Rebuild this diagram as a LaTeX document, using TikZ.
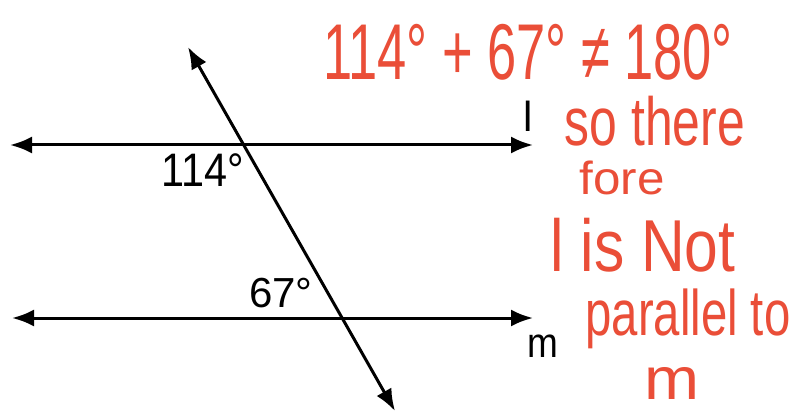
\documentclass[tikz,border=0pt]{standalone}
\usepackage{fontspec}
\usepackage{graphicx}
\setmainfont{Liberation Sans}
\usetikzlibrary{arrows.meta}
\definecolor{pen}{RGB}{234,78,56}
\tikzset{
  geoline/.style={line width=3pt, black, {Latex[length=22pt,width=17pt]}-{Latex[length=22pt,width=17pt]}},
  lbl/.style={inner sep=0pt, font=\fontsize{44}{48}\selectfont},
  hand/.style={inner sep=0pt, text=pen}
}
\begin{document}
\begin{tikzpicture}[x=1pt,y=-1pt]
\fill[white] (0,0) rectangle (802,414);
\useasboundingbox (0,0) rectangle (802,414);
% endpoints
\coordinate (l1) at (10,145);
\coordinate (l2) at (533,145);
\coordinate (m1) at (12,318);
\coordinate (m2) at (533,318);
\coordinate (t1) at (188,47);
\coordinate (t2) at (395,411);
\draw[geoline] (l1) -- (l2);
\draw[geoline] (m1) -- (m2);
\draw[geoline] (t1) -- (t2);
% labels
\node[lbl, font=\fontsize{47}{50}\selectfont, xscale=0.88] (a114) at (203,170) {114°};
\node[lbl, font=\fontsize{42}{46}\selectfont] (a67) at (281,293) {67°};
\node[lbl, font=\fontsize{42}{46}\selectfont] (ll) at (528,116) {l};
\node[lbl, font=\fontsize{42}{46}\selectfont, xscale=0.88] (lm) at (543,346) {m};
% handwritten notes
\node[hand] (n1) at (528,52) {\resizebox*{410pt}{56pt}{114° + 67° ≠ 180°}};
\node[hand] (n2) at (655,121) {\resizebox*{180pt}{50pt}{so there}};
\node[hand] (n3) at (622,178) {\resizebox*{85pt}{34pt}{fore}};
\node[hand] (n4) at (643,245) {\resizebox*{185pt}{54pt}{l is Not}};
\node[hand] (n5) at (688,319) {\resizebox*{205pt}{60pt}{parallel to}};
\node[hand] (n6) at (672,383) {\resizebox*{55pt}{32pt}{m}};
\end{tikzpicture}
\end{document}
